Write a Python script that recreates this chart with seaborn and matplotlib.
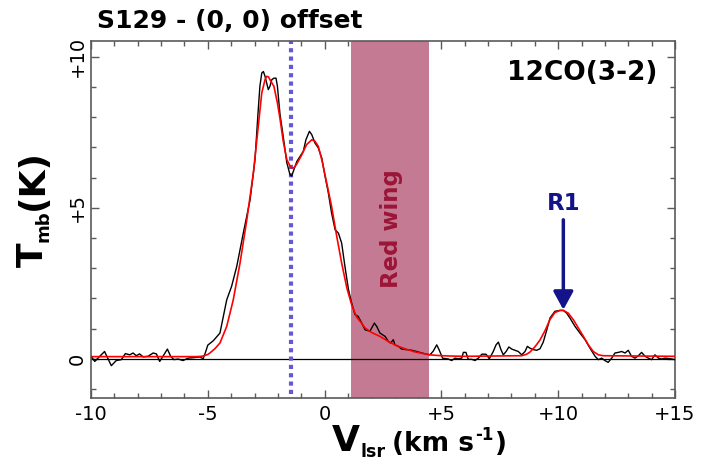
import numpy as np
import pandas as pd
import matplotlib
matplotlib.use("Agg")
import matplotlib.pyplot as plt
import seaborn as sns

# Observed 12CO(3-2) spectrum towards S129, (0, 0) offset
v_obs = [-9.99, -9.84, -9.42, -9.13, -8.92, -8.70, -8.53, -8.34, -8.20, -8.06,
         -7.92, -7.77, -7.56, -7.34, -7.20, -7.06, -6.92, -6.73, -6.59, -6.45,
         -6.27, -6.06, -5.84, -5.56, -5.34, -5.20, -5.10, -5.00, -4.76, -4.48,
         -4.19, -3.98, -3.76, -3.48, -3.19, -2.98, -2.84, -2.77, -2.69, -2.62,
         -2.55, -2.41, -2.34, -2.26, -2.17, -2.08, -2.02, -1.91, -1.77, -1.62,
         -1.48, -1.41, -1.34, -1.19, -1.05, -0.91, -0.80, -0.65, -0.55, -0.41,
         -0.27, -0.12, 0.02, 0.16, 0.30, 0.45, 0.59, 0.73, 0.87, 1.02,
         1.16, 1.30, 1.44, 1.59, 1.73, 1.94, 2.13, 2.23, 2.37, 2.59,
         2.73, 2.83, 2.94, 3.01, 3.16, 3.30, 3.51, 3.73, 3.94, 4.16,
         4.37, 4.51, 4.65, 4.80, 4.90, 5.05, 5.30, 5.44, 5.58, 5.72,
         5.87, 5.94, 6.05, 6.15, 6.30, 6.44, 6.58, 6.73, 6.91, 7.05,
         7.22, 7.34, 7.44, 7.55, 7.65, 7.77, 7.89, 8.01, 8.15, 8.29,
         8.44, 8.58, 8.68, 8.79, 8.94, 9.08, 9.22, 9.36, 9.51, 9.65,
         9.86, 10.08, 10.22, 10.36, 10.50, 10.72, 10.93, 11.15, 11.36, 11.58,
         11.72, 11.86, 12.00, 12.14, 12.29, 12.43, 12.57, 12.72, 12.86, 13.00,
         13.14, 13.29, 13.43, 13.57, 13.72, 13.86, 14.00, 14.14, 14.29, 14.43,
         14.57, 14.79, 15.00]
t_obs = [0.08, -0.09, 0.24, -0.23, -0.06, -0.03, 0.17, 0.13, 0.19, 0.10,
         0.16, 0.06, 0.08, 0.19, 0.16, -0.09, 0.08, 0.32, 0.08, -0.03,
         -0.01, -0.06, 0.02, 0.04, 0.06, 0.00, 0.21, 0.45, 0.60, 0.85,
         1.95, 2.40, 3.06, 4.16, 5.26, 6.59, 8.25, 9.02, 9.46, 9.51,
         9.35, 8.91, 9.02, 9.24, 9.29, 9.29, 9.02, 8.10, 7.35, 6.50,
         6.09, 6.05, 6.20, 6.53, 6.70, 6.87, 7.25, 7.53, 7.42, 7.14,
         6.98, 6.64, 6.04, 5.49, 4.82, 4.27, 4.16, 3.83, 3.06, 2.30,
         1.84, 1.46, 1.40, 1.18, 0.96, 0.91, 1.18, 1.07, 0.85, 0.74,
         0.57, 0.52, 0.63, 0.46, 0.41, 0.32, 0.30, 0.28, 0.24, 0.19,
         0.15, 0.13, 0.25, 0.46, 0.30, 0.02, -0.01, -0.06, 0.02, 0.00,
         0.02, 0.21, 0.21, -0.02, -0.02, -0.06, 0.02, 0.15, 0.15, 0.00,
         0.24, 0.46, 0.55, 0.30, 0.13, 0.24, 0.39, 0.32, 0.28, 0.24,
         0.13, 0.24, 0.41, 0.35, 0.30, 0.28, 0.33, 0.55, 0.95, 1.35,
         1.57, 1.60, 1.60, 1.51, 1.35, 1.07, 0.85, 0.63, 0.35, 0.08,
         -0.03, 0.02, -0.06, -0.12, 0.02, 0.19, 0.21, 0.24, 0.19, 0.28,
         0.08, 0.02, 0.10, 0.21, 0.08, 0.02, -0.03, 0.13, 0.02, -0.01,
         0.02, 0.00, -0.03]

# Gaussian-component fit to the spectrum
v_fit = [-10.0, -5.50, -5.26, -5.00, -4.91, -4.70, -4.48, -4.19, -3.91, -3.62,
         -3.33, -3.05, -2.84, -2.69, -2.55, -2.48, -2.40, -2.34, -2.17, -2.02,
         -1.91, -1.77, -1.62, -1.48, -1.41, -1.30, -1.19, -0.98, -0.77, -0.55,
         -0.41, -0.27, -0.12, 0.09, 0.30, 0.52, 0.73, 0.95, 1.16, 1.37,
         1.58, 1.73, 2.01, 2.37, 2.73, 3.08, 3.44, 3.80, 4.16, 4.51,
         4.80, 5.37, 6.00, 8.44, 8.65, 8.79, 9.01, 9.22, 9.43, 9.65,
         9.86, 10.08, 10.22, 10.43, 10.65, 10.86, 11.08, 11.29, 11.50, 11.72,
         11.93, 15.00]
t_fit = [0.07, 0.07, 0.08, 0.14, 0.19, 0.33, 0.52, 1.07, 1.95, 3.17,
         4.60, 6.15, 7.69, 8.80, 9.24, 9.35, 9.33, 9.24, 9.02, 8.47,
         7.95, 7.20, 6.60, 6.38, 6.31, 6.33, 6.45, 6.75, 7.09, 7.25,
         7.20, 7.03, 6.59, 5.82, 5.04, 4.05, 3.17, 2.35, 1.78, 1.38,
         1.18, 1.02, 0.87, 0.74, 0.57, 0.43, 0.33, 0.24, 0.18, 0.13,
         0.11, 0.09, 0.08, 0.10, 0.15, 0.22, 0.40, 0.62, 0.92, 1.30,
         1.53, 1.60, 1.60, 1.51, 1.29, 1.02, 0.74, 0.46, 0.24, 0.13,
         0.10, 0.08]

# Annotations
red_wing = (1.13, 4.47)          # velocity range of the red wing (km/s)
v_systemic = -1.45               # systemic velocity (km/s)
r1_velocity = 10.22              # R1 component
r1_peak = 1.62
r1_label_level = 4.93

x_major = [-10, -5, 0, 5, 10, 15]
x_labels = ["-10", "-5", "0", "+5", "+10", "+15"]
y_major = [0, 5, 10]
y_labels = ["0", "+5", "+10"]

obs = pd.DataFrame({"v": v_obs, "T": t_obs})
fit = pd.DataFrame({"v": v_fit, "T": t_fit})

sns.set_theme(style="ticks")
plt.rcParams["font.family"] = ["DejaVu Sans"]
plt.rcParams["text.color"] = "black"
plt.rcParams["axes.labelcolor"] = "black"

W, H = 719, 465
fig = plt.figure(figsize=(W / 100, H / 100), dpi=100)
fig.patch.set_facecolor("white")
ax = fig.add_axes([91 / W, 1 - 398 / H, 584 / W, 357 / H])
ax.set_facecolor("white")

ax.axvspan(*red_wing, color="#c47a92", lw=0, zorder=1)
ax.axhline(0, color="black", lw=0.9, zorder=2)
ax.axvline(v_systemic, ymin=0.01, ymax=1, color="#6658d0", lw=3,
           linestyle=(0, (1, 1)), dash_capstyle="butt", zorder=2)

sns.lineplot(data=obs, x="v", y="T", ax=ax, color="black", lw=1.0,
             estimator=None, sort=False, zorder=3)
sns.lineplot(data=fit, x="v", y="T", ax=ax, color="#ff0000", lw=1.2,
             estimator=None, sort=False, zorder=4)

ax.set_xlim(-10, 15)
ax.set_ylim(-1.3, 10.52)
ax.set_xlabel("")
ax.set_ylabel("")

ax.set_xticks(x_major)
ax.set_xticklabels(x_labels)
ax.set_xticks(np.arange(-10, 16, 1), minor=True)
ax.set_yticks(y_major)
ax.set_yticklabels(y_labels, rotation=90, va="center")
ax.set_yticks(np.arange(-1, 11, 1), minor=True)

spine_col = "#5a5a5a"
for s in ax.spines.values():
    s.set_color(spine_col)
    s.set_linewidth(1.2)
ax.tick_params(which="both", direction="in", top=True, right=True,
               color=spine_col, width=1.0, labelsize=14, labelcolor="black")
ax.tick_params(which="major", length=6)
ax.tick_params(which="minor", length=3.5)
ax.tick_params(axis="x", which="major", pad=5)
ax.tick_params(axis="y", which="major", pad=3)

navy = "#14148a"
ax.text(0.969, 0.891, "12CO(3-2)", transform=ax.transAxes, ha="right",
        va="baseline", fontsize=19, fontweight="bold", color="black", zorder=5)
ax.text(sum(red_wing) / 2 + 0.05, 4.3, "Red wing", rotation=90, ha="center",
        va="center", fontsize=16.5, fontweight="bold", color="#9b1538", zorder=5)
ax.text(r1_velocity, r1_label_level, "R1", ha="center", va="baseline",
        fontsize=16.5, fontweight="bold", color=navy, zorder=5)
ax.annotate("", xy=(r1_velocity, r1_peak), xytext=(r1_velocity, 4.6),
            arrowprops=dict(arrowstyle="-|>,head_length=0.55,head_width=0.3",
                            mutation_scale=20, lw=2.5, color=navy,
                            shrinkA=0, shrinkB=0), zorder=5)

fig.text(97 / W, 1 - 28 / H, "S129 - (0, 0) offset", ha="left", va="baseline",
         fontsize=18, fontweight="bold", color="black")

renderer = fig.canvas.get_renderer()


def label_run(parts, x, y, rotation=0):
    """Lay out bold text pieces one after another (x, y in figure pixels)."""
    for text, size, shift, gap in parts:
        if rotation == 0:
            x += gap
            t = fig.text(x / W, (y - shift) / H, text, ha="left", va="baseline",
                         fontsize=size, fontweight="bold", color="black")
            x = t.get_window_extent(renderer).x1
        else:
            y += gap
            t = fig.text((x + shift) / W, y / H, text, rotation=90,
                         rotation_mode="anchor", ha="left", va="baseline",
                         fontsize=size, fontweight="bold", color="black")
            y = t.get_window_extent(renderer).y1


# x-axis label: V_lsr (km s^-1)
label_run([("V", 26, 0, 0), ("lsr", 12.6, 6, 0), ("(km s", 19, 0, 7),
           ("-1", 12, -11, 1), (")", 19, 0, 1)], 332, H - 451)
# y-axis label: T_mb(K)
label_run([("T", 26, 0, 0), ("mb", 13, 5, 0), ("(K)", 26, 0, 1)],
          43, H - 267, rotation=90)

fig.savefig("out.png", dpi=100, facecolor="white")
